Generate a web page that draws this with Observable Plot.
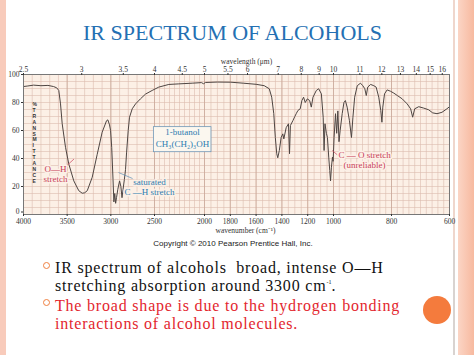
<!DOCTYPE html>
<html><head><meta charset="utf-8">
<script src="https://cdn.jsdelivr.net/npm/d3@7"></script>
<script src="https://cdn.jsdelivr.net/npm/@observablehq/plot@0.6"></script>
<style>
html,body{margin:0;padding:0;}
body{width:474px;height:355px;position:relative;overflow:hidden;background:#fff;font-family:"Liberation Serif",serif;}
.abs{position:absolute;}
#title{left:0;width:465px;top:20px;text-align:center;font-size:22px;color:#2470b3;line-height:26px;white-space:nowrap;}
#chart{left:0;top:45px;}
#copy{left:0;width:466px;top:239px;text-align:center;font-family:"Liberation Sans",sans-serif;font-size:8px;color:#222;line-height:10px;white-space:nowrap;}
.line{left:55px;font-size:16px;line-height:18.4px;letter-spacing:0.8px;white-space:nowrap;color:#111;}
.red{color:#e3262e;}
.ring{width:5px;height:5px;border:1.5px solid #f08040;border-radius:50%;left:43px;}
</style>
</head><body>
<div class="abs" style="left:0;top:0;width:6px;height:355px;background:#f8cbbb"></div>
<div class="abs" style="left:453px;top:0;width:2px;height:250px;background:#efd6cc"></div>
<div class="abs" style="left:453px;top:250px;width:2px;height:105px;background:#d9d3d0"></div>
<div class="abs" style="left:458px;top:0;width:16px;height:355px;background:linear-gradient(to right,#fbd5c5,#f7b99f)"></div>
<div id="title" class="abs">IR SPECTRUM OF ALCOHOLS</div>
<div id="chart" class="abs"></div>
<div id="copy" class="abs">Copyright © 2010 Pearson Prentice Hall, Inc.</div>
<div class="abs ring" style="top:261.5px"></div>
<div class="abs ring" style="top:299px"></div>
<div class="abs line" style="top:258.7px">IR spectrum of alcohols&nbsp; broad, intense O—H</div>
<div class="abs line" style="top:277.2px">stretching absorption around 3300 cm<sup style="font-size:6px;vertical-align:7px;line-height:0;letter-spacing:0">-1</sup>.</div>
<div class="abs line red" style="top:296.7px">The broad shape is due to the hydrogen bonding</div>
<div class="abs line red" style="top:315.2px">interactions of alcohol molecules.</div>
<div class="abs" style="left:423px;top:296px;width:28px;height:28px;border-radius:50%;background:#f47b3d"></div>
<script>
// ---- data ----
const wavenumber = [4000,3950,3885,3800,3720,3656,3620,3596,3576,3557,3519,3481,3424,3367,3328,3300,3270,3213,3156,3099,3049,3034,3015,3003,2990,2975,2965,2955,2945,2935,2920,2900,2885,2872,2860,2845,2832,2820,2801,2786,2755,2717,2661,2603,2527,2457,2357,2257,2123,2030,2010,1992,1900,1797,1700,1600,1537,1498,1479,1463,1451,1440,1432,1420,1406,1393,1385,1367,1349,1341,1334,1315,1300,1289,1276,1258,1245,1232,1219,1203,1185,1172,1159,1133,1115,1094,1080,1073,1066,1055,1047,1037,1029,1023,1016,1008,1003,998,993,989,985,981,977,970,964,959,953,945,938,933,927,918,907,899,892,887,882,872,861,853,844,837,833,830,824,815,803,792,780,763,746,734,727,720,706,689,672,658,643,626,609,600];
const transmittance = [91.4,91.8,92.4,92,92.2,91.4,90.5,88.6,79,64.8,48,36,24,17,15.2,15.5,17,26.6,43,58.8,67,67.6,64,60,48,25,9,15,8,12,18,24,20,12,18,25,32,44,60,69.5,75.5,79,82.6,86,88.6,91,92.9,93.3,93.8,94.2,93.4,94.3,94.6,94.5,93.8,93,92,89.8,83.8,72,55,43.4,40.5,45.7,55,57.6,54,62,64.8,43.4,63.6,67,70,72,74.3,75.5,81.4,83.8,80,82.6,81.4,76.7,83.8,88.6,89.8,86.2,69.5,45.7,64.8,58,55,41,31.4,24,33.8,41,38,55,72,58,74,52,60,72,80,81.4,76.7,67,55,69.5,83.8,92,93.8,92,89.8,85,91,92.9,92,91,83.8,74.3,65.9,76.7,86.2,89,88,86.7,85,82.6,79,75.5,69.5,75.5,77,76,74.8,72.6,72,73,75.5,77];
const wavenumberTicks = [4000,3500,3000,2500,2000,1800,1600,1400,1200,1000,800,600];
const wavelengthTicks = [2.5,3,3.5,4,4.5,5,5.5,6,7,8,9,10,11,12,13,14,15,16];
const transmittanceTicks = [20,40,60,80,100];
const transmittanceZero = [0];
const labelsRed = [{wn:3633, t:29.3, text:"O—H\nstretch"}, {wn:893, t:38.9, text:"C — O stretch\n(unreliable)"}];
const labelsBlue = [{wn:2557, t:20, text:"saturated\nC —H stretch"}];
const boxLabel = {wn1:2507, wn2:1946, t1:44.5, t2:62.4, wn:2220, lines:[{t:58.6, text:"1-butanol"},{t:50.2, text:"CH₃(CH₂)₃OH"}]};
const leadersRed = [{x1:3496,y1:35.4,x2:3422,y2:39.6},{x1:986,y1:42.5,x2:1010,y2:45.7}];
const leadersBlue = [{x1:2751,y1:25.7,x2:2912,y2:30}];
const yTitle = "%\nT\nR\nA\nN\nS\nM\nI\nT\nT\nA\nN\nC\nE";

// chart's piecewise wavenumber axis (scale change at 2500, 2000 and 1000 cm-1)
const axisBreaks = d3.scaleLinear().domain([4000,2500,2000,1000,600]).range([0,131,181,310,426]);

// grid positions
const gridMinorX = [...d3.range(2500,4001,100), ...d3.range(2000,2500,50), ...d3.range(1000,2000,50), ...d3.range(600,1000,20)];
const gridMajorX = [4000,3500,3000,2500,2000,1800,1600,1400,1200,1000,800,600];
const gridMinorY = d3.range(0,101,5);

const spectrum = wavenumber.map((w,i)=>({w, t: transmittance[i]}));
const bg = "#fcf0e6";

const chart = Plot.plot({
  width: 474, height: 195,
  marginTop: 29, marginBottom: 26, marginLeft: 23, marginRight: 25,
  x: {transform: axisBreaks, range:[23,449]},
  y: {domain:[0,100], range:[169,29]},
  style: {fontFamily:"Liberation Serif", fontSize:"7.5px", background:"transparent", color:"#333", overflow:"visible"},
  marks: [
    Plot.frame({fill: bg, stroke: null}),
    Plot.ruleX(gridMinorX, {stroke:"#dcbcae", strokeWidth:0.6}),
    Plot.ruleY(gridMinorY, {stroke:"#dcbcae", strokeWidth:0.6}),
    Plot.ruleX(gridMajorX, {stroke:"#c6a494", strokeWidth:0.7}),
    Plot.line(spectrum, {x:"w", y:"t", stroke:"#4e4542", strokeWidth:1}),
    Plot.link(leadersRed, {x1:"x1",y1:"y1",x2:"x2",y2:"y2", stroke:"#c8405a", strokeWidth:0.7}),
    Plot.link(leadersBlue, {x1:"x1",y1:"y1",x2:"x2",y2:"y2", stroke:"#5b8db5", strokeWidth:0.7}),
    Plot.rect([boxLabel], {x1:"wn1", x2:"wn2", y1:"t1", y2:"t2", fill:"#fbf7ef", stroke:"#6f98b8", strokeWidth:0.8}),
    Plot.text(boxLabel.lines, {x:()=>boxLabel.wn, y:"t", text:"text", fill:"#2b7bb0", fontSize:9}),
    Plot.text(labelsRed, {x:"wn", y:"t", text:"text", fill:"#c8405a", fontSize:9, lineHeight:1.1, stroke:bg, strokeWidth:3}),
    Plot.text(labelsBlue, {x:"wn", y:"t", text:"text", fill:"#2b7bb0", fontSize:9, lineHeight:1.1, stroke:bg, strokeWidth:3}),
    Plot.text([yTitle], {frameAnchor:"left", dx:9, dy:-2, text:d=>d, fontSize:5, fontWeight:"bold", lineHeight:1.18, fill:"#333", fontFamily:"Liberation Sans"}),
    Plot.frame({stroke:"#777", strokeWidth:1}),
    Plot.axisX(wavenumberTicks, {anchor:"bottom", tickSize:2, tickPadding:2.5, tickFormat:d=>String(d), label:null}),
    Plot.axisX(wavelengthTicks.map(l=>1e4/l), {anchor:"top", tickSize:2, tickPadding:0.5, tickFormat:d=>String(Math.round(2e4/d)/2), label:null}),
    Plot.axisY(transmittanceTicks, {anchor:"left", tickSize:2, tickPadding:2, label:null}),
    Plot.axisY(transmittanceZero, {anchor:"left", tickSize:2, tickPadding:2, dy:-2.5, label:null}),
    Plot.text(["wavenumber (cm⁻¹)"], {frameAnchor:"bottom", dy:18.5, dx:9, text:d=>d, fontSize:7.5}),
    Plot.text(["wavelength (μm)"], {frameAnchor:"top", dy:-16, dx:10, text:d=>d, fontSize:7.5})
  ]
});
document.getElementById("chart").appendChild(chart);
</script>
</body></html>
